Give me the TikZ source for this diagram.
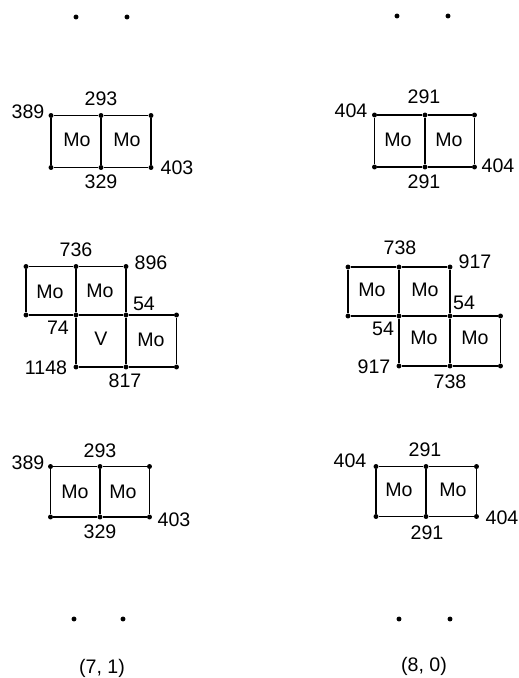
\documentclass[tikz,border=0pt]{standalone}
\usepackage{fontspec}
\setmainfont{Liberation Sans}
\tikzset{
  dotn/.style={circle,fill=black,inner sep=0pt,minimum size=3.7pt},
  txt/.style={font=\fontsize{14.7}{16}\selectfont,inner sep=0pt},
  edge/.style={draw=black,line width=1.1pt}
}
\begin{document}
\begin{tikzpicture}[x=0.75pt,y=-0.75pt]
\useasboundingbox (0,0) rectangle (518,678);
% top/bottom dots
\foreach \n/\x/\y in {t1/76/17,t2/127/17,t3/397/16,t4/448/16,b1/74/619,b2/123/619,b3/399/619,b4/450/619}
  \node[dotn] (\n) at (\x,\y) {};
% left-top
\node[dotn] (a1) at (51,115.5) {};\node[dotn] (a2) at (101,115.5) {};\node[dotn] (a3) at (151,115.5) {};
\node[dotn] (a4) at (51,167.5) {};\node[dotn] (a5) at (101,167.5) {};\node[dotn] (a6) at (151,167.5) {};
\draw[edge] (a1)--(a2) (a2)--(a3) (a3)--(a6) (a6)--(a5) (a5)--(a4) (a4)--(a1) (a2)--(a5);
\node[txt] (a7) at (77,140) {Mo};\node[txt] (a8) at (127,140) {Mo};
\node[txt] (a9) at (101,99) {293};\node[txt] (a10) at (28,112) {389};\node[txt] (a11) at (177,168) {403};\node[txt] (a12) at (101,182) {329};
% right-top
\node[dotn] (c1) at (374.5,115) {};\node[dotn] (c2) at (425,115) {};\node[dotn] (c3) at (474.5,115) {};
\node[dotn] (c4) at (374.5,167) {};\node[dotn] (c5) at (425,167) {};\node[dotn] (c6) at (474.5,167) {};
\draw[edge] (c1)--(c2) (c2)--(c3) (c3)--(c6) (c6)--(c5) (c5)--(c4) (c4)--(c1) (c2)--(c5);
\node[txt] (c7) at (398,140) {Mo};\node[txt] (c8) at (449,140) {Mo};
\node[txt] (c9) at (424,97) {291};\node[txt] (c10) at (351,111) {404};\node[txt] (c11) at (498,166) {404};\node[txt] (c12) at (424,182) {291};
% left-middle
\node[dotn] (d1) at (26,266.5) {};\node[dotn] (d2) at (76,266.5) {};\node[dotn] (d3) at (126,266.5) {};
\node[dotn] (d4) at (26,315) {};\node[dotn] (d5) at (76,315) {};\node[dotn] (d6) at (126,315) {};\node[dotn] (d7) at (176.5,315) {};
\node[dotn] (d8) at (76,367) {};\node[dotn] (d9) at (126,367) {};\node[dotn] (d10) at (176.5,367) {};
\draw[edge] (d1)--(d2) (d2)--(d3) (d3)--(d6) (d4)--(d5) (d5)--(d6) (d6)--(d7) (d7)--(d10) (d10)--(d9) (d9)--(d8) (d8)--(d5) (d5)--(d2) (d1)--(d4) (d6)--(d9);
\node[txt] (d11) at (50,292) {Mo};\node[txt] (d12) at (100,291) {Mo};\node[txt] (d13) at (101,339) {V};\node[txt] (d14) at (151,340) {Mo};
\node[txt] (d15) at (76,250) {736};\node[txt] (d16) at (151,263) {896};\node[txt] (d17) at (144,304) {54};\node[txt] (d18) at (58,328) {74};\node[txt] (d19) at (46,368) {1148};\node[txt] (d20) at (125,381) {817};
% right-middle
\node[dotn] (e1) at (348,267) {};\node[dotn] (e2) at (399,267) {};\node[dotn] (e3) at (450,267) {};
\node[dotn] (e4) at (348,316) {};\node[dotn] (e5) at (399,316) {};\node[dotn] (e6) at (450,316) {};\node[dotn] (e7) at (500.5,316) {};
\node[dotn] (e8) at (399,366) {};\node[dotn] (e9) at (450,366) {};\node[dotn] (e10) at (500.5,366) {};
\draw[edge] (e1)--(e2) (e2)--(e3) (e3)--(e6) (e4)--(e5) (e5)--(e6) (e6)--(e7) (e7)--(e10) (e10)--(e9) (e9)--(e8) (e8)--(e5) (e5)--(e2) (e1)--(e4) (e6)--(e9);
\node[txt] (e11) at (372,290) {Mo};\node[txt] (e12) at (425,290) {Mo};\node[txt] (e13) at (424,338) {Mo};\node[txt] (e14) at (475,338) {Mo};
\node[txt] (e15) at (400,248) {738};\node[txt] (e16) at (475,262) {917};\node[txt] (e17) at (464,303) {54};\node[txt] (e18) at (383,329) {54};\node[txt] (e19) at (374,367) {917};\node[txt] (e20) at (450,382) {738};
% left-bottom
\node[dotn] (f1) at (50.5,466.5) {};\node[dotn] (f2) at (100,466.5) {};\node[dotn] (f3) at (149.5,466.5) {};
\node[dotn] (f4) at (50.5,517) {};\node[dotn] (f5) at (100,517) {};\node[dotn] (f6) at (149.5,517) {};
\draw[edge] (f1)--(f2) (f2)--(f3) (f3)--(f6) (f6)--(f5) (f5)--(f4) (f4)--(f1) (f2)--(f5);
\node[txt] (f7) at (75,492) {Mo};\node[txt] (f8) at (123,492) {Mo};
\node[txt] (f9) at (100,451) {293};\node[txt] (f10) at (28,463) {389};\node[txt] (f11) at (174,520) {403};\node[txt] (f12) at (100,532) {329};
% right-bottom
\node[dotn] (g1) at (376,466.5) {};\node[dotn] (g2) at (426,466.5) {};\node[dotn] (g3) at (476.5,466.5) {};
\node[dotn] (g4) at (376,516.5) {};\node[dotn] (g5) at (426,516.5) {};\node[dotn] (g6) at (476.5,516.5) {};
\draw[edge] (g1)--(g2) (g2)--(g3) (g3)--(g6) (g6)--(g5) (g5)--(g4) (g4)--(g1) (g2)--(g5);
\node[txt] (g7) at (399,490) {Mo};\node[txt] (g8) at (453,490) {Mo};
\node[txt] (g9) at (425,450) {291};\node[txt] (g10) at (350,461) {404};\node[txt] (g11) at (502,518) {404};\node[txt] (g12) at (427,533) {291};
\node[txt] (h1) at (102,668) {(7, 1)};
\node[txt] (h2) at (424,666) {(8, 0)};
\end{tikzpicture}
\end{document}
